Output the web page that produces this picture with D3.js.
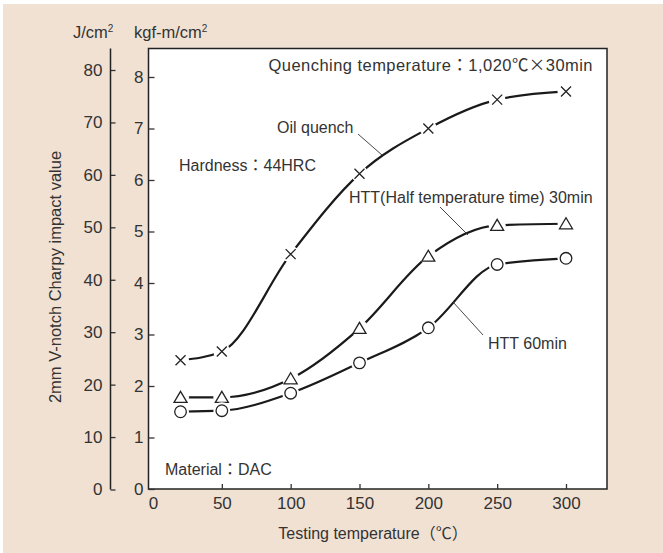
<!DOCTYPE html>
<html><head><meta charset="utf-8">
<script src="https://cdn.jsdelivr.net/npm/d3@7"></script>
<style>
html,body{margin:0;padding:0;background:#fff;}
text{font-family:"Liberation Sans","Noto Sans CJK JP",sans-serif;fill:#333;}
.cjk{font-family:"Noto Sans CJK JP",sans-serif;}
</style></head>
<body><svg id="c" width="663" height="553"></svg>
<script>
const temps = [20, 50, 100, 150, 200, 250, 300];
const oilQuench = [2.50, 2.67, 4.56, 6.12, 7.00, 7.56, 7.72];
const htt30 = [1.78, 1.78, 2.14, 3.12, 4.52, 5.12, 5.15];
const htt60 = [1.50, 1.52, 1.86, 2.45, 3.13, 4.36, 4.48];
const xTicks = [0, 50, 100, 150, 200, 250, 300];
const kgfTicks = [0, 1, 2, 3, 4, 5, 6, 7, 8];
const jTicks = [0, 10, 20, 30, 40, 50, 60, 70, 80];

const svg = d3.select("#c");
svg.append("rect").attr("x",3).attr("y",4).attr("width",660).attr("height",549).attr("fill","#f1e1d3");

const L=148.5, T=48.5, R=607, B=489;
const x = d3.scaleLinear().domain([0,300]).range([153,566]);
const yK = d3.scaleLinear().domain([0,8]).range([489,77]);
const yJ = d3.scaleLinear().domain([0,80]).range([489.5,70]);

svg.append("rect").attr("x",L).attr("y",T).attr("width",R-L).attr("height",B-T)
  .attr("fill","#fff").attr("stroke","#222").attr("stroke-width",1.5);

// kgf axis
const gK = svg.append("g").attr("transform",`translate(${L},0)`)
  .call(d3.axisLeft(yK).tickValues(kgfTicks).tickSize(-6).tickSizeOuter(0).tickPadding(5));
gK.select(".domain").remove();
// J axis
const gJ = svg.append("g").attr("transform",`translate(110.5,0)`)
  .call(d3.axisLeft(yJ).tickValues(jTicks).tickSize(-5).tickSizeOuter(0).tickPadding(8));
gJ.select(".domain").remove();
svg.append("line").attr("x1",110.5).attr("x2",110.5).attr("y1",T).attr("y2",489.5).attr("stroke","#222").attr("stroke-width",1.5);
// x axis
const gX = svg.append("g").attr("transform",`translate(0,${B})`)
  .call(d3.axisBottom(x).tickValues(xTicks).tickSize(-5).tickSizeOuter(0).tickPadding(8));
gX.select(".domain").remove();
gX.selectAll(".tick").filter(d=>d===0).select("line").remove();

svg.selectAll(".tick line").attr("stroke","#333").attr("stroke-width",1.3);
svg.selectAll(".tick text").attr("font-size",17).attr("fill","#333")
  .style("font-family",'"Liberation Sans","Noto Sans CJK JP",sans-serif');

// unit labels
svg.append("text").attr("x",73).attr("y",38).attr("font-size",16.5).html('J/cm<tspan dy="-6" font-size="10">2</tspan>');
svg.append("text").attr("x",134).attr("y",38).attr("font-size",16.5).html('kgf-m/cm<tspan dy="-6" font-size="10">2</tspan>');
// axis titles
svg.append("text").attr("transform","translate(61,277) rotate(-90)").attr("text-anchor","middle")
  .attr("font-size",16.5).text("2mm V-notch Charpy impact value");
svg.append("text").attr("x",373).attr("y",539).attr("text-anchor","middle").attr("font-size",16).text("Testing temperature（℃）");

// curves
const line = d3.line().x(d=>x(d[0])).y(d=>yK(d[1])).curve(d3.curveMonotoneX);
const series = [
  {name:"oil", vals:oilQuench, sym:"x"},
  {name:"htt30", vals:htt30, sym:"tri"},
  {name:"htt60", vals:htt60, sym:"circ"}
];
series.forEach(s=>{
  const pts = temps.map((t,i)=>[t,s.vals[i]]);
  svg.append("path").attr("d",line(pts)).attr("fill","none").attr("stroke","#1a1a1a").attr("stroke-width",2.2);
});
series.forEach(s=>{
  const pts = temps.map((t,i)=>[t,s.vals[i]]);
  const g = svg.append("g");
  g.selectAll("circle.halo").data(pts).join("circle").attr("class","halo")
    .attr("cx",d=>x(d[0])).attr("cy",d=>yK(d[1])).attr("r",8.5).attr("fill","#fff");
  const m = g.selectAll("g.m").data(pts).join("g").attr("transform",d=>`translate(${x(d[0])},${yK(d[1])})`)
    .attr("fill","#fff").attr("stroke","#222").attr("stroke-width",1.3);
  if(s.sym==="x"){
    m.append("path").attr("d","M-5,-5L5,5M-5,5L5,-5");
  } else if(s.sym==="tri"){
    m.append("path").attr("d","M0,-6L6.5,5L-6.5,5Z");
  } else {
    m.append("circle").attr("r",5.8);
  }
});

// annotations
const q = svg.append("text").attr("x",593).attr("y",71).attr("text-anchor","end").attr("font-size",16.5)
  .style("letter-spacing","0.45px");
q.append("tspan").text("Quenching temperature");
q.append("tspan").attr("class","cjk").text("：");
q.append("tspan").text("1,020");
q.append("tspan").attr("class","cjk").text("℃×");
q.append("tspan").text("30min");

const ann = [
  {t:"Oil quench", x:277, y:133},
  {t:"Hardness：44HRC", x:179, y:171},
  {t:"HTT(Half temperature time) 30min", x:349, y:203},
  {t:"HTT 60min", x:488, y:349},
  {t:"Material：DAC", x:165, y:475}
];
ann.forEach(a=>svg.append("text").attr("x",a.x).attr("y",a.y).attr("font-size",16).text(a.t));
const leaders = [[358,134,382,155],[440,207,468,235],[483,335,453,302]];
leaders.forEach(l=>svg.append("line").attr("x1",l[0]).attr("y1",l[1]).attr("x2",l[2]).attr("y2",l[3]).attr("stroke","#333").attr("stroke-width",0.9));
</script></body></html>
